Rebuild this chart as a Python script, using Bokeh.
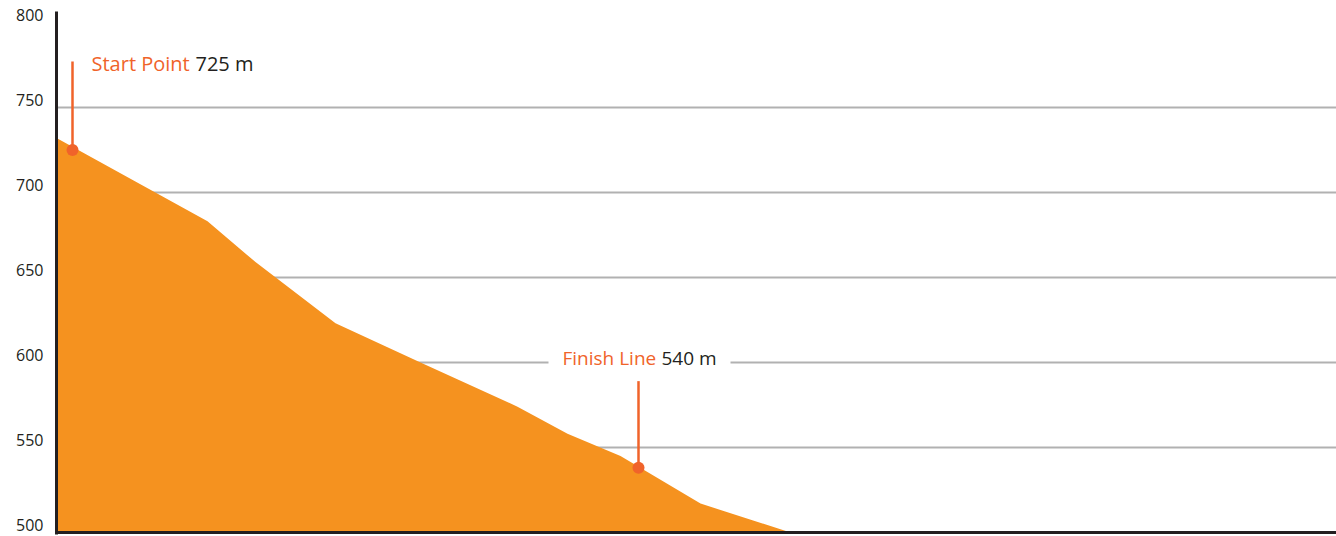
from bokeh.plotting import figure
from bokeh.models import Range1d, FixedTicker, Span, Label
from bokeh.embed import file_html
from bokeh.resources import INLINE

# Elevation profile (distance along course in arbitrary units, elevation in m)
distance = [0, 151, 199, 279, 364, 461, 511, 564, 644, 734]
elevation = [732, 683, 659, 623, 600, 574, 558, 545, 517, 500]

start_x, start_elev = 16, 725
finish_x, finish_elev = 582, 538
start_text, start_value = "Start Point", "725 m"
finish_text, finish_value = "Finish Line", "540 m"
y_ticks = [500, 550, 600, 650, 700, 750, 800]
grid_ticks = [550, 600, 650, 700, 750]

ORANGE = "#f5921f"
RED = "#f0632a"
DARK = "#231f20"
FONT = "Open Sans"

Y0, Y1 = 498.8, 806.4
LABEL_SHIFT = 4.3  # tick labels sit slightly above their gridlines

p = figure(width=1336, height=536, output_backend="svg", toolbar_location=None,
           x_range=Range1d(0, 1280), y_range=Range1d(Y0, Y1),
           min_border_left=56, min_border_right=0, min_border_top=11, min_border_bottom=2)
p.extra_y_ranges = {"labels": Range1d(Y0 - LABEL_SHIFT, Y1 - LABEL_SHIFT)}
p.outline_line_color = None
p.xaxis.visible = False
p.xgrid.visible = False

p.yaxis.y_range_name = "labels"
p.yaxis.ticker = FixedTicker(ticks=y_ticks)
p.yaxis.axis_line_color = DARK
p.yaxis.axis_line_width = 3
p.yaxis.major_tick_line_color = None
p.yaxis.minor_tick_line_color = None
p.yaxis.major_tick_in = 0
p.yaxis.major_tick_out = 0
p.yaxis.major_label_standoff = 13
p.yaxis.major_label_text_font = FONT
p.yaxis.major_label_text_font_size = "16px"
p.yaxis.major_label_text_color = DARK

p.ygrid.ticker = FixedTicker(ticks=grid_ticks)
p.ygrid.grid_line_color = "#b1b1b1"
p.ygrid.grid_line_width = 2

# area
p.varea(x=distance, y1=[500] * len(distance), y2=elevation, fill_color=ORANGE)

# baseline axis line
p.add_layout(Span(location=500, dimension="width", line_color=DARK, line_width=3))

# gap in gridline behind finish label
p.quad(left=[finish_x - 90], right=[finish_x + 92], bottom=[596], top=[608],
       fill_color="white", line_color=None)

# start marker
p.segment(x0=[start_x], y0=[start_elev], x1=[start_x], y1=[777], line_color=RED, line_width=2.5)
p.scatter(x=[start_x], y=[start_elev], size=12, fill_color=RED, line_color=None)
# finish marker
p.segment(x0=[finish_x], y0=[finish_elev], x1=[finish_x], y1=[589], line_color=RED, line_width=2.5)
p.scatter(x=[finish_x], y=[finish_elev], size=12, fill_color=RED, line_color=None)

def add_label(x, y, text, color, size):
    p.add_layout(Label(x=x, y=y, text=text, text_color=color, text_font=FONT,
                       text_font_size=size, text_baseline="middle"))

add_label(35, 775.8, start_text, RED, "20px")
add_label(139, 775.8, start_value, DARK, "20px")
add_label(506, 602.5, finish_text, RED, "19px")
add_label(605, 602.5, finish_value, DARK, "19px")

open("out.html", "w").write(file_html(p, INLINE))
